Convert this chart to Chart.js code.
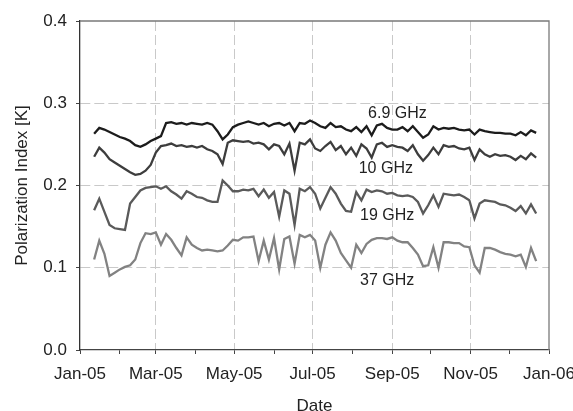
<!DOCTYPE html>
<html>
<head>
<meta charset="utf-8">
<script src="https://cdn.jsdelivr.net/npm/chart.js@4/dist/chart.umd.min.js"></script>
<style>
  body { margin: 0; background: #fff; }
</style>
</head>
<body>
<canvas id="graficoPI" width="573" height="411"></canvas>
<script>
// day of year 2005 (0 = 1 Jan)
const days = [11, 15, 19, 23, 27, 31, 35, 39, 43, 47, 51, 55, 59, 63, 67, 71, 75, 79, 83, 87,
  91, 95, 99, 103, 107, 111, 115, 119, 123, 127, 131, 135, 139, 143, 147, 151, 155, 159, 163, 167,
  171, 175, 179, 183, 187, 191, 195, 199, 203, 207, 211, 215, 219, 223, 227, 231, 235, 239, 243, 247,
  251, 255, 259, 263, 267, 271, 275, 279, 283, 287, 291, 295, 299, 303, 307, 311, 315, 319, 323, 327,
  331, 335, 339, 343, 347, 351, 355];

const pi69 = [0.263, 0.270, 0.268, 0.265, 0.262, 0.259, 0.257, 0.254, 0.249, 0.247, 0.250, 0.254, 0.257, 0.260, 0.276, 0.277, 0.275, 0.276, 0.274, 0.276,
  0.275, 0.274, 0.276, 0.274, 0.266, 0.256, 0.262, 0.271, 0.274, 0.276, 0.278, 0.276, 0.274, 0.276, 0.272, 0.275, 0.276, 0.273, 0.276, 0.266,
  0.276, 0.275, 0.279, 0.276, 0.272, 0.270, 0.276, 0.271, 0.272, 0.268, 0.266, 0.271, 0.265, 0.272, 0.261, 0.273, 0.275, 0.270, 0.268, 0.268,
  0.271, 0.266, 0.272, 0.265, 0.258, 0.262, 0.272, 0.268, 0.270, 0.269, 0.270, 0.268, 0.267, 0.268, 0.262, 0.268, 0.266, 0.265, 0.264, 0.264,
  0.263, 0.263, 0.261, 0.265, 0.261, 0.267, 0.264];

const pi10 = [0.235, 0.246, 0.240, 0.232, 0.228, 0.224, 0.220, 0.216, 0.213, 0.214, 0.218, 0.225, 0.240, 0.248, 0.249, 0.251, 0.248, 0.249, 0.247, 0.248,
  0.246, 0.248, 0.244, 0.242, 0.238, 0.226, 0.252, 0.255, 0.254, 0.253, 0.254, 0.251, 0.252, 0.250, 0.244, 0.250, 0.248, 0.238, 0.251, 0.218,
  0.252, 0.250, 0.256, 0.245, 0.242, 0.248, 0.253, 0.243, 0.248, 0.238, 0.246, 0.236, 0.250, 0.245, 0.234, 0.250, 0.252, 0.247, 0.249, 0.247,
  0.246, 0.242, 0.249, 0.238, 0.230, 0.237, 0.246, 0.238, 0.249, 0.247, 0.248, 0.245, 0.244, 0.246, 0.231, 0.244, 0.238, 0.235, 0.238, 0.236,
  0.237, 0.235, 0.231, 0.236, 0.232, 0.239, 0.234];

const pi19 = [0.170, 0.184, 0.168, 0.152, 0.148, 0.147, 0.146, 0.178, 0.186, 0.194, 0.197, 0.198, 0.199, 0.196, 0.199, 0.193, 0.189, 0.184, 0.193, 0.190,
  0.186, 0.185, 0.182, 0.180, 0.180, 0.206, 0.200, 0.193, 0.193, 0.195, 0.194, 0.196, 0.187, 0.195, 0.185, 0.192, 0.162, 0.194, 0.190, 0.152,
  0.196, 0.193, 0.198, 0.190, 0.172, 0.185, 0.198, 0.190, 0.178, 0.169, 0.168, 0.192, 0.182, 0.195, 0.192, 0.194, 0.193, 0.190, 0.191, 0.188,
  0.187, 0.188, 0.186, 0.180, 0.166, 0.176, 0.188, 0.174, 0.190, 0.189, 0.188, 0.189, 0.186, 0.182, 0.160, 0.178, 0.182, 0.181, 0.180, 0.177,
  0.176, 0.173, 0.169, 0.175, 0.166, 0.177, 0.166];

const pi37 = [0.110, 0.133, 0.117, 0.090, 0.094, 0.098, 0.101, 0.103, 0.110, 0.130, 0.142, 0.141, 0.143, 0.128, 0.141, 0.134, 0.124, 0.115, 0.137, 0.128,
  0.124, 0.121, 0.122, 0.121, 0.120, 0.121, 0.127, 0.134, 0.133, 0.137, 0.137, 0.138, 0.108, 0.133, 0.110, 0.136, 0.098, 0.135, 0.138, 0.105,
  0.140, 0.137, 0.140, 0.133, 0.100, 0.128, 0.143, 0.133, 0.118, 0.109, 0.100, 0.128, 0.118, 0.129, 0.134, 0.136, 0.136, 0.135, 0.137, 0.133,
  0.131, 0.131, 0.124, 0.116, 0.102, 0.103, 0.125, 0.100, 0.131, 0.131, 0.130, 0.130, 0.126, 0.125, 0.103, 0.094, 0.124, 0.124, 0.122, 0.119,
  0.117, 0.116, 0.114, 0.116, 0.101, 0.124, 0.108];

const seriesNames = ['6.9 GHz', '10 GHz', '19 GHz', '37 GHz'];
const seriesColors = ['#1c1c1c', '#3d3d3d', '#5a5a5a', '#828282'];

// where the frequency labels sit (day, value)
const labelDays = [247, 238, 239, 239];
const labelValues = [0.288, 0.221, 0.163, 0.084];

// month starts used as x ticks, labels every second month
const monthStarts = [0, 31, 59, 90, 120, 151, 181, 212, 243, 273, 304, 334, 365];
const monthLabels = ['Jan-05', '', 'Mar-05', '', 'May-05', '', 'Jul-05', '', 'Sep-05', '', 'Nov-05', '', 'Jan-06'];

const FONT = '"Liberation Sans", Arial, sans-serif';
Chart.defaults.font.family = FONT;
Chart.defaults.font.size = 17;
Chart.defaults.color = '#222';

const allSeries = [pi69, pi10, pi19, pi37];

// moldura de cima e da direita + rotulos das series
const molduraERotulos = {
  id: 'molduraERotulos',
  afterDatasetsDraw(chart) {
    const { ctx, chartArea: a, scales: { x, y } } = chart;
    ctx.save();
    ctx.strokeStyle = '#7a7a7a';
    ctx.lineWidth = 1.3;
    ctx.beginPath();
    ctx.moveTo(a.left, a.top);
    ctx.lineTo(a.right, a.top);
    ctx.lineTo(a.right, a.bottom);
    ctx.stroke();

    ctx.font = '16px ' + FONT;
    ctx.fillStyle = '#222';
    ctx.textAlign = 'center';
    ctx.textBaseline = 'middle';
    seriesNames.forEach((name, i) => {
      ctx.fillText(name, x.getPixelForValue(labelDays[i]), y.getPixelForValue(labelValues[i]));
    });
    ctx.restore();
  }
};

new Chart(document.getElementById('graficoPI'), {
  type: 'line',
  data: {
    datasets: allSeries.map((vals, i) => ({
      label: seriesNames[i],
      data: days.map((d, j) => ({ x: d, y: vals[j] })),
      borderColor: seriesColors[i],
      borderWidth: 2.3,
      pointRadius: 0,
      tension: 0,
      fill: false
    }))
  },
  options: {
    responsive: false,
    animation: false,
    devicePixelRatio: 1,
    layout: { padding: { top: 21, right: 24, bottom: 0, left: 0 } },
    plugins: {
      legend: { display: false },
      tooltip: { enabled: false }
    },
    scales: {
      x: {
        type: 'linear',
        min: 0,
        max: 365,
        afterBuildTicks: (scale) => {
          scale.ticks = monthStarts.map(v => ({ value: v }));
        },
        afterFit: (scale) => {
          scale.height = 61;
          scale.paddingLeft = 0;
          scale.paddingRight = 0;
        },
        ticks: {
          autoSkip: false,
          maxRotation: 0,
          padding: 10,
          callback: (value, index) => monthLabels[index]
        },
        grid: {
          color: (c) => (c.index > 0 && c.index < 12 && monthLabels[c.index]) ? '#c9c9c9' : 'rgba(0,0,0,0)',
          lineWidth: 1,
          tickColor: '#444',
          tickWidth: 1,
          tickLength: 4
        },
        border: { color: '#444', width: 1.3, dash: [10, 4] },
        title: { display: true, text: 'Date', padding: { top: 0, bottom: -6 } }
      },
      y: {
        min: 0,
        max: 0.4,
        afterFit: (scale) => { scale.width = 80; },
        ticks: {
          stepSize: 0.1,
          padding: 9,
          callback: (v) => v.toFixed(1)
        },
        grid: {
          color: (c) => (c.tick && c.tick.value > 0.05 && c.tick.value < 0.35) ? '#c9c9c9' : 'rgba(0,0,0,0)',
          lineWidth: 1,
          tickColor: '#444',
          tickWidth: 1,
          tickLength: 4
        },
        border: { color: '#333', width: 1.3, dash: [10, 4] },
        title: { display: true, text: 'Polarization Index [K]', padding: { top: 12, bottom: 0 } }
      }
    }
  },
  plugins: [molduraERotulos]
});
</script>
</body>
</html>
